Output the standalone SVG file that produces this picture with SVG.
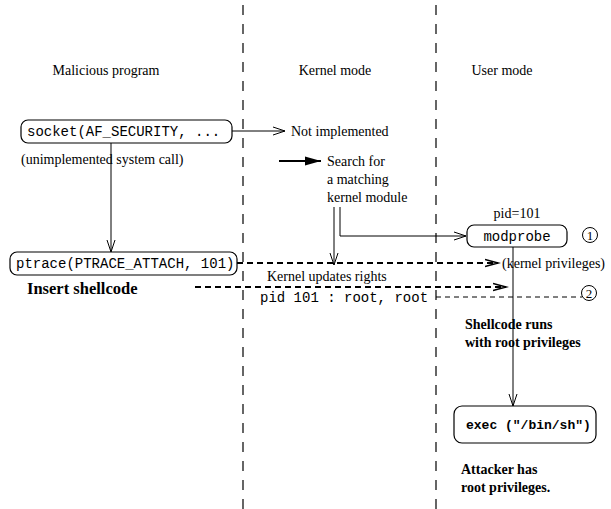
<svg xmlns="http://www.w3.org/2000/svg" width="611" height="509" viewBox="0 0 611 509">
  <style>
    .t { font-family: "Liberation Serif", "Times New Roman", serif; font-size: 14px; fill: #000; }
    .b { font-family: "Liberation Serif", "Times New Roman", serif; font-size: 14px; font-weight: bold; fill: #000; }
    .m { font-family: "Liberation Mono", "Courier New", monospace; font-size: 14px; fill: #000; }
    .box { fill: #fff; stroke: #000; stroke-width: 1.2; }
    .lane { stroke: #000; stroke-width: 1.2; stroke-dasharray: 10 9; fill: none; }
    .ln { stroke: #000; stroke-width: 1; fill: none; }
    .dash { stroke: #000; stroke-width: 2.2; stroke-dasharray: 6 4; fill: none; }
    .thin { stroke: #000; stroke-width: 1; stroke-dasharray: 5 4; fill: none; }
  </style>
  <defs>
    <marker id="open" markerUnits="userSpaceOnUse" markerWidth="14" markerHeight="12" refX="12" refY="5" orient="auto">
      <path d="M0,1 L12,5 L0,9" fill="none" stroke="#000" stroke-width="1"/>
    </marker>
    <marker id="openBold" markerUnits="userSpaceOnUse" markerWidth="16" markerHeight="12" refX="13" refY="5" orient="auto">
      <path d="M0,1.5 L13,5 L0,8.5" fill="none" stroke="#000" stroke-width="1.6"/>
    </marker>
    <marker id="solid" markerUnits="userSpaceOnUse" markerWidth="18" markerHeight="12" refX="16" refY="5" orient="auto">
      <path d="M0,0.5 L16,5 L0,9.5 Z" fill="#000"/>
    </marker>
  </defs>

  <rect width="611" height="509" fill="#fff"/>

  <!-- swimlane separators -->
  <g id="lanes">
    <line class="lane" x1="243" y1="5" x2="243" y2="509"/>
    <line class="lane" x1="436" y1="5" x2="436" y2="509"/>
    <text class="t" x="106" y="75" text-anchor="middle">Malicious program</text>
    <text class="t" x="335" y="75" text-anchor="middle">Kernel mode</text>
    <text class="t" x="502" y="75" text-anchor="middle">User mode</text>
  </g>

  <!-- connectors -->
  <g id="connectors">
    <line class="ln" x1="232" y1="131" x2="285" y2="131" marker-end="url(#open)"/>
    <line x1="279" y1="161" x2="321" y2="161" stroke="#000" stroke-width="2.2" marker-end="url(#solid)"/>
    <line class="ln" x1="111" y1="143" x2="111" y2="252" marker-end="url(#open)"/>
    <line class="ln" x1="334" y1="207" x2="334" y2="265" marker-end="url(#open)"/>
    <polyline class="ln" points="340,207 340,236 466,236" marker-end="url(#open)"/>
    <line class="dash" x1="237" y1="263" x2="498" y2="263" marker-end="url(#openBold)"/>
    <line class="dash" x1="195" y1="287" x2="506" y2="287" marker-end="url(#openBold)"/>
    <line class="thin" x1="436" y1="297" x2="582" y2="297"/>
    <line class="ln" x1="513" y1="247" x2="513" y2="406" marker-end="url(#open)"/>
  </g>

  <g id="socket">
    <rect class="box" x="21" y="120" width="211" height="23" rx="7"/>
    <text class="m" x="27" y="136">socket(AF_SECURITY, ...</text>
    <text class="t" x="21" y="164">(unimplemented system call)</text>
  </g>

  <g id="not-implemented">
    <text class="t" x="291" y="136">Not implemented</text>
  </g>

  <g id="search">
    <text class="t" x="327" y="166">Search for</text>
    <text class="t" x="327" y="184">a matching</text>
    <text class="t" x="327" y="202">kernel module</text>
  </g>

  <g id="ptrace">
    <rect class="box" x="10" y="252" width="227" height="23" rx="7"/>
    <text class="m" x="16" y="268">ptrace(PTRACE_ATTACH, 101)</text>
    <text class="b" x="27" y="294" style="font-size:16.5px">Insert shellcode</text>
  </g>

  <g id="modprobe">
    <text class="t" x="517" y="218" text-anchor="middle">pid=101</text>
    <rect class="box" x="467" y="225" width="100" height="22" rx="7"/>
    <text class="m" x="517" y="241" text-anchor="middle">modprobe</text>
  </g>

  <g id="step1">
    <circle cx="590" cy="235" r="7.5" fill="none" stroke="#000" stroke-width="1"/>
    <text class="t" x="590" y="240" text-anchor="middle" style="font-size:13px">1</text>
  </g>

  <g id="kernel-privileges">
    <text class="t" x="502" y="268">(kernel privileges)</text>
  </g>

  <g id="rights">
    <text class="t" x="267" y="281">Kernel updates rights</text>
    <text class="m" x="260" y="302">pid 101 : root, root</text>
  </g>

  <g id="step2">
    <circle cx="589" cy="293" r="7.5" fill="none" stroke="#000" stroke-width="1"/>
    <text class="t" x="589" y="298" text-anchor="middle" style="font-size:13px">2</text>
  </g>

  <g id="shellcode-runs">
    <text class="b" x="465" y="329">Shellcode runs</text>
    <text class="b" x="465" y="347">with root privileges</text>
  </g>

  <g id="exec">
    <rect class="box" x="454" y="406" width="142" height="37" rx="8"/>
    <text class="m" x="466" y="429" style="font-weight:bold;font-size:13px">exec ("/bin/sh")</text>
  </g>

  <g id="attacker">
    <text class="b" x="461" y="474">Attacker has</text>
    <text class="b" x="461" y="492">root privileges.</text>
  </g>
</svg>
